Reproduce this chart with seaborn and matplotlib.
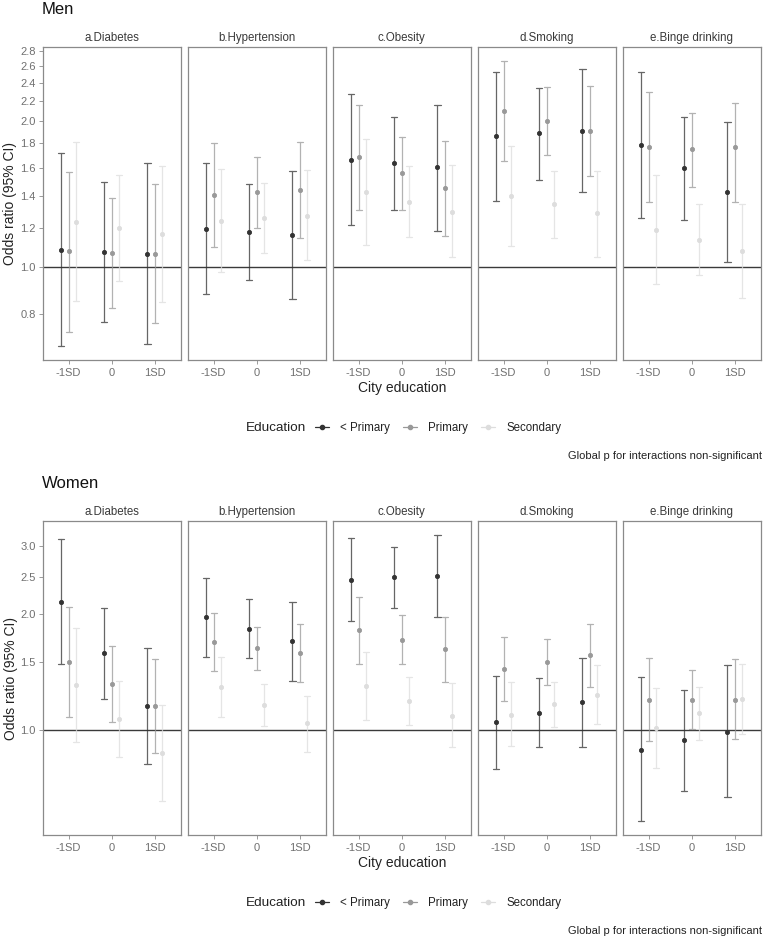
import matplotlib
matplotlib.use("Agg")
import matplotlib.pyplot as plt
from matplotlib.lines import Line2D
import numpy as np
import pandas as pd
import seaborn as sns

outcomes = ["a.Diabetes", "b.Hypertension", "c.Obesity", "d.Smoking", "e.Binge drinking"]
levels = ["-1SD", "0", "1SD"]
edus = ["< Primary", "Primary", "Secondary"]
edu_colors = ["#333333", "#999999", "#dddddd"]

# [outcome][city level][education]
men_or = [
    [[1.084, 1.076, 1.24], [1.074, 1.066, 1.20], [1.061, 1.061, 1.167]],
    [[1.197, 1.41, 1.245], [1.18, 1.425, 1.26], [1.163, 1.443, 1.275]],
    [[1.665, 1.686, 1.43], [1.64, 1.565, 1.363], [1.605, 1.455, 1.30]],
    [[1.866, 2.10, 1.40], [1.887, 2.0, 1.346], [1.91, 1.91, 1.29]],
    [[1.785, 1.77, 1.19], [1.598, 1.749, 1.134], [1.43, 1.77, 1.079]],
]
men_lo = [
    [[0.686, 0.733, 0.848], [0.77, 0.821, 0.933], [0.693, 0.764, 0.845]],
    [[0.877, 1.10, 0.975], [0.94, 1.20, 1.07], [0.856, 1.148, 1.032]],
    [[1.22, 1.31, 1.11], [1.31, 1.31, 1.15], [1.187, 1.157, 1.046]],
    [[1.367, 1.652, 1.105], [1.513, 1.70, 1.146], [1.425, 1.54, 1.049]],
    [[1.26, 1.359, 0.921], [1.249, 1.462, 0.96], [1.024, 1.359, 0.863]],
]
men_hi = [
    [[1.72, 1.57, 1.81], [1.50, 1.39, 1.55], [1.64, 1.48, 1.62]],
    [[1.64, 1.80, 1.59], [1.48, 1.69, 1.49], [1.58, 1.81, 1.585]],
    [[2.28, 2.16, 1.84], [2.04, 1.86, 1.62], [2.16, 1.82, 1.625]],
    [[2.535, 2.66, 1.777], [2.345, 2.357, 1.577], [2.568, 2.364, 1.58]],
    [[2.527, 2.30, 1.547], [2.04, 2.08, 1.346], [1.99, 2.18, 1.35]],
]

women_or = [
    [[2.15, 1.50, 1.307], [1.583, 1.312, 1.068], [1.155, 1.155, 0.87]],
    [[1.964, 1.69, 1.291], [1.827, 1.631, 1.162], [1.697, 1.583, 1.041]],
    [[2.445, 1.817, 1.301], [2.49, 1.717, 1.192], [2.515, 1.621, 1.089]],
    [[1.047, 1.441, 1.096], [1.109, 1.503, 1.166], [1.178, 1.564, 1.235]],
    [[0.887, 1.197, 1.014], [0.94, 1.197, 1.103], [0.99, 1.197, 1.202]],
]
women_lo = [
    [[1.487, 1.083, 0.929], [1.204, 1.051, 0.852], [0.817, 0.870, 0.655]],
    [[1.545, 1.418, 1.079], [1.533, 1.432, 1.024], [1.341, 1.328, 0.878]],
    [[1.913, 1.487, 1.062], [2.068, 1.487, 1.03], [1.967, 1.335, 0.903]],
    [[0.792, 1.192, 0.907], [0.901, 1.307, 1.02], [0.901, 1.294, 1.035]],
    [[0.579, 0.935, 0.798], [0.693, 1.004, 0.94], [0.67, 0.944, 0.978]],
]
women_hi = [
    [[3.13, 2.09, 1.845], [2.068, 1.647, 1.338], [1.634, 1.524, 1.16]],
    [[2.485, 2.01, 1.545], [2.187, 1.856, 1.315], [2.15, 1.883, 1.228]],
    [[3.15, 2.22, 1.589], [2.99, 1.983, 1.368], [3.2, 1.964, 1.32]],
    [[1.382, 1.745, 1.328], [1.363, 1.725, 1.328], [1.539, 1.883, 1.47]],
    [[1.371, 1.533, 1.281], [1.273, 1.435, 1.291], [1.47, 1.524, 1.479]],
]

men_yticks = [0.8, 1.0, 1.2, 1.4, 1.6, 1.8, 2.0, 2.2, 2.4, 2.6, 2.8]
women_yticks = [1.0, 1.5, 2.0, 2.5, 3.0]


def long_table(or_, lo, hi):
    # three rows per estimate (lo, OR, hi): median = OR, min/max = CI
    rows = []
    for i, outc in enumerate(outcomes):
        for j, lev in enumerate(levels):
            for k, edu in enumerate(edus):
                for v in (lo[i][j][k], or_[i][j][k], hi[i][j][k]):
                    rows.append({"outcome": outc, "level": lev, "edu": edu, "value": v})
    return pd.DataFrame(rows)


sns.set_theme(style="white")
plt.rcParams["font.family"] = ["Liberation Sans", "DejaVu Sans"]

fig = plt.figure(figsize=(7.64, 9.40), dpi=100)
W, H = 764, 940
tick_col = "#707070"
text_col = "#222222"


def draw_block(df, top_px, bottom_px, ylim, yticks, title, title_px, legend_px, note_px):
    for i, outc in enumerate(outcomes):
        left = 42.7 + 145 * i
        ax = fig.add_axes([left / W, 1 - bottom_px / H, 138 / W, (bottom_px - top_px) / H])
        ax.set_yscale("log")
        sub = df[df["outcome"] == outc]
        ax.axhline(1.0, color="#3a3a3a", lw=1.0, zorder=1)
        sns.pointplot(
            data=sub, x="level", y="value", hue="edu",
            order=levels, hue_order=edus, palette=edu_colors,
            estimator=np.median, errorbar=lambda v: (v.min(), v.max()),
            dodge=0.34, linestyle="none", capsize=0.14,
            markersize=3.0, markeredgewidth=0.6,
            err_kws={"linewidth": 0.9, "alpha": 0.75},
            legend=False, ax=ax,
        )
        ax.set_xlim(-0.6, 2.6)
        ax.set_ylim(*ylim)
        ax.set_yticks(yticks)
        ax.yaxis.set_minor_locator(matplotlib.ticker.NullLocator())
        ax.set_xlabel("")
        ax.set_ylabel("")
        ax.set_title(outc, fontsize=8.3, color="#3a3a3a", pad=4)
        for sp in ax.spines.values():
            sp.set_color("#8a8a8a")
            sp.set_linewidth(0.9)
        ax.tick_params(axis="x", bottom=True, length=3, width=0.6, color="#8a8a8a",
                       labelsize=8, labelcolor=tick_col, pad=2.5)
        if i == 0:
            ax.set_yticklabels([f"{t:.1f}" for t in yticks])
            ax.tick_params(axis="y", left=True, length=3, width=0.6, color="#8a8a8a",
                           labelsize=8, labelcolor=tick_col, pad=2)
            ax.set_ylabel("Odds ratio (95% CI)", fontsize=10, color=text_col, labelpad=2)
        else:
            ax.tick_params(axis="y", left=False, labelleft=False)

    mid = (42.7 + 761.3) / 2 / W
    fig.text(42 / W, 1 - title_px / H, title, fontsize=12, ha="left", va="center", color="#111111")
    fig.text(mid, 1 - (bottom_px + 28) / H, "City education", fontsize=10,
             ha="center", va="center", color=text_col)
    fig.text(246 / W, 1 - legend_px / H, "Education", fontsize=9.7, ha="left", va="center", color=text_col)
    handles = [Line2D([0], [0], color=c, marker="o", markersize=3, linewidth=0.9) for c in edu_colors]
    fig.legend(handles, edus, loc="center left", bbox_to_anchor=(315 / W, 1 - legend_px / H),
               ncol=3, frameon=False, fontsize=8.3, handlelength=1.2, handletextpad=1.0,
               columnspacing=1.1, labelcolor=text_col, borderaxespad=0, borderpad=0)
    fig.text(762 / W, 1 - note_px / H, "Global p for interactions non-significant",
             fontsize=8, ha="right", va="center", color=text_col)


men = long_table(men_or, men_lo, men_hi)
women = long_table(women_or, women_lo, women_hi)

draw_block(men, 47, 360, (0.641, 2.85), men_yticks, "Men", 9, 428, 456)
draw_block(women, 521, 835, (0.533, 3.49), women_yticks, "Women", 483, 903, 931)

fig.savefig("out.png", dpi=100)
